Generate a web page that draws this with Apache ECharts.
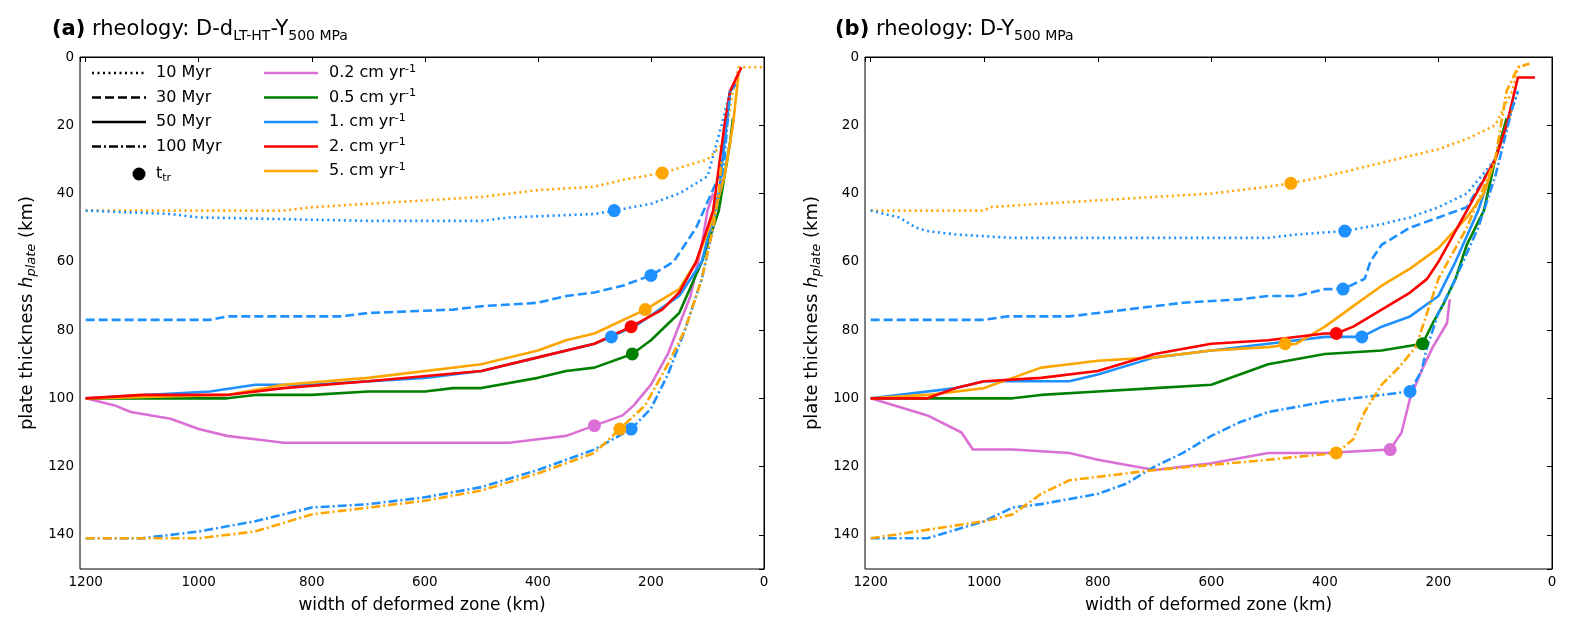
<!DOCTYPE html>
<html><head><meta charset="utf-8">
<script src="https://cdn.jsdelivr.net/npm/echarts@6/dist/echarts.min.js"></script>
<style>html,body{margin:0;padding:0;background:#fff}#c{width:1570px;height:629px}</style>
</head><body><div id="c"></div>
<script>
// ---- data: [width km, plate thickness km] ----
var xTicks = [1200, 1000, 800, 600, 400, 200, 0];
var yTicks = [0, 20, 40, 60, 80, 100, 120, 140];

// panel (a)
var aOrange10 = [[1200,45],[850,45],[800,44],[700,43],[600,42],[500,41],[400,39],[300,38],[250,36],[180,34],[100,30],[70,25],[55,10],[45,3],[0,3]];
var aBlue10 = [[1200,45],[1050,46],[1000,47],[700,48],[500,48],[450,47],[300,46],[265,45],[200,43],[150,40],[100,35],[75,20],[60,10],[50,8]];
var aBlue30 = [[1200,77],[980,77],[950,76],[750,76],[700,75],[550,74],[500,73],[400,72],[350,70],[300,69],[250,67],[200,64],[160,60],[120,50],[80,35],[60,10],[50,8]];
var aRed50 = [[1200,100],[1100,99],[950,99],[850,97],[700,95],[500,92],[400,88],[300,84],[235,79],[180,74],[150,69],[120,60],[90,45],[70,20],[60,10],[40,3]];
var aOrange50 = [[1200,100],[950,99],[850,96],[700,94],[500,90],[400,86],[350,83],[300,81],[210,74],[150,68],[120,60],[90,47],[70,35],[55,20],[45,5]];
var aBlue50 = [[1200,100],[980,98],[900,96],[800,96],[600,94],[500,92],[400,88],[300,84],[270,82],[220,78],[150,70],[110,60],[80,40],[60,10],[50,8]];
var aGreen50 = [[1200,100],[950,100],[900,99],[800,99],[700,98],[600,98],[550,97],[500,97],[400,94],[350,92],[300,91],[233,87],[200,83],[150,75],[110,60],[80,45],[60,25],[55,18]];
var aViolet50 = [[1200,100],[1150,102],[1120,104],[1050,106],[1000,109],[950,111],[900,112],[850,113],[450,113],[400,112],[350,111],[300,108],[250,105],[230,102],[200,96],[170,87],[130,70],[110,55],[100,45],[90,40]];
var aBlue100 = [[1200,141],[1100,141],[1000,139],[900,136],[800,132],[700,131],[600,129],[500,126],[400,121],[300,115],[235,109],[200,103],[170,93],[140,80],[110,65],[90,50],[70,30],[60,10]];
var aOrange100 = [[1200,141],[1000,141],[900,139],[800,134],[700,132],[600,130],[500,127],[400,122],[300,116],[255,109],[210,102],[170,90],[140,80],[110,65],[90,50],[80,40],[75,30]];
var aDots = [[180,34,'#FFA500'],[265,45,'#1E90FF'],[200,64,'#1E90FF'],[235,79,'#FF0000'],[210,74,'#FFA500'],[270,82,'#1E90FF'],[233,87,'#008000'],[300,108,'#DA70D6'],[235,109,'#1E90FF'],[255,109,'#FFA500']];

// panel (b)
var bOrange10 = [[1200,45],[1000,45],[990,44],[900,43],[700,41],[600,40],[500,38],[460,37],[400,35],[300,31],[250,29],[200,27],[150,24],[100,20],[70,10],[60,3],[40,2]];
var bBlue10 = [[1200,45],[1150,47],[1120,50],[1100,51],[1050,52],[950,53],[500,53],[450,52],[365,51],[300,49],[250,47],[200,44],[150,40],[100,30],[70,15],[60,10]];
var bBlue30 = [[1200,77],[1000,77],[960,76],[850,76],[800,75],[650,72],[550,71],[500,70],[450,70],[400,68],[368,68],[330,65],[320,60],[300,55],[250,50],[200,47],[150,44],[100,30],[80,20]];
var bOrange50 = [[1200,100],[1100,99],[1000,97],[950,94],[900,91],[850,90],[800,89],[700,88],[600,86],[500,85],[450,84],[400,79],[350,73],[300,67],[250,62],[200,56],[150,47],[120,40],[90,25],[70,15]];
var bRed50 = [[1200,100],[1100,100],[1050,97],[1000,95],[900,94],[800,92],[700,87],[600,84],[500,83],[400,81],[380,81],[350,79],[300,74],[250,69],[220,65],[200,60],[150,45],[100,30],[80,20],[60,6],[30,6]];
var bBlue50 = [[1200,100],[1050,97],[1000,95],[850,95],[800,93],[700,88],[600,86],[500,84],[400,82],[335,82],[300,79],[250,76],[200,70],[170,60],[130,45],[100,30],[80,20]];
var bGreen50 = [[1200,100],[950,100],[900,99],[800,98],[700,97],[600,96],[550,93],[500,90],[400,87],[300,86],[228,84],[210,78],[190,72],[170,65],[150,55],[120,45],[100,30],[80,18]];
var bViolet50 = [[1200,100],[1100,105],[1040,110],[1020,115],[950,115],[850,116],[800,118],[700,121],[600,119],[500,116],[400,116],[285,115],[265,110],[250,100],[230,92],[210,85],[185,78],[180,71]];
var bBlue100 = [[1200,141],[1100,141],[1000,136],[950,132],[900,131],[800,128],[750,125],[700,120],[650,116],[600,111],[550,107],[500,104],[400,101],[300,99],[250,98],[230,92],[220,85],[200,75],[170,65],[130,50],[100,35],[70,15],[60,10]];
var bOrange100 = [[1200,141],[1000,136],[950,134],[900,128],[850,124],[700,121],[500,118],[380,116],[350,112],[330,104],[300,96],[270,91],[240,85],[200,65],[150,50],[100,30],[80,10],[60,3],[40,2]];
var bDots = [[460,37,'#FFA500'],[365,51,'#1E90FF'],[368,68,'#1E90FF'],[380,81,'#FF0000'],[335,82,'#1E90FF'],[228,84,'#008000'],[470,84,'#FFA500'],[250,98,'#1E90FF'],[380,116,'#FFA500'],[285,115,'#DA70D6']];

var C = {orange:'#FFA500', blue:'#1E90FF', red:'#FF0000', green:'#008000', violet:'#DA70D6'};
var DOT = [2,3.5], DASH = [9,4], DASHDOT = [9,3,2,3];

function line(idx, data, color, type) {
    return {type:'line', xAxisIndex:idx, yAxisIndex:idx, data:data, showSymbol:false, symbol:'none',
        animation:false, z:2, lineStyle:{color:color, width:2.6, type:type}};
}
function dots(idx, d) {
    return {type:'scatter', xAxisIndex:idx, yAxisIndex:idx, symbolSize:13, z:5, animation:false,
        data:d.map(function (p) { return {value:[p[0],p[1]], itemStyle:{color:p[2], opacity:1}}; })};
}
var font = {fontFamily:'DejaVu Sans', color:'#000'};
function xAx(idx) {
    return {type:'value', gridIndex:idx, inverse:true, min:0, max:1210, interval:200,
        name:'width of deformed zone (km)', nameLocation:'middle', nameGap:28,
        nameTextStyle:Object.assign({fontSize:17}, font),
        axisLine:{lineStyle:{color:'#000'}}, axisTick:{lineStyle:{color:'#000'}, length:5},
        axisLabel:Object.assign({fontSize:13.5, margin:6, formatter:function (v) { return v > 1200 ? '' : v; }}, font),
        splitLine:{show:false}};
}
function yAx(idx) {
    return {type:'value', gridIndex:idx, inverse:true, min:0, max:150, interval:20,
        name:'{a|plate thickness }{i|h}{s|plate}{a| (km)}', nameLocation:'middle', nameGap:42,
        nameTextStyle:{rich:{a:Object.assign({fontSize:18},font), i:Object.assign({fontSize:18,fontStyle:'italic'},font), s:Object.assign({fontSize:13,fontStyle:'italic',verticalAlign:'bottom',padding:[8,0,0,0]},font)}},
        axisLine:{lineStyle:{color:'#000'}}, axisTick:{lineStyle:{color:'#000'}, length:5},
        axisLabel:Object.assign({fontSize:13.5, margin:6, formatter:function (v) { return v > 140 ? '' : v; }}, font),
        splitLine:{show:false}};
}

var series = [
    line(0,aOrange10,C.orange,DOT), line(0,aBlue10,C.blue,DOT), line(0,aBlue30,C.blue,DASH),
    line(0,aViolet50,C.violet,'solid'), line(0,aGreen50,C.green,'solid'), line(0,aBlue50,C.blue,'solid'),
    line(0,aOrange50,C.orange,'solid'), line(0,aRed50,C.red,'solid'),
    line(0,aBlue100,C.blue,DASHDOT), line(0,aOrange100,C.orange,DASHDOT), dots(0,aDots),
    line(1,bOrange10,C.orange,DOT), line(1,bBlue10,C.blue,DOT), line(1,bBlue30,C.blue,DASH),
    line(1,bViolet50,C.violet,'solid'), line(1,bGreen50,C.green,'solid'), line(1,bBlue50,C.blue,'solid'),
    line(1,bOrange50,C.orange,'solid'), line(1,bRed50,C.red,'solid'),
    line(1,bBlue100,C.blue,DASHDOT), line(1,bOrange100,C.orange,DASHDOT), dots(1,bDots)
];

// legend drawn as graphics
var legL = [['10 Myr',DOT],['30 Myr',DASH],['50 Myr','solid'],['100 Myr',DASHDOT]];
var legR = [['0.2',C.violet],['0.5',C.green],['1.',C.blue],['2.',C.red],['5.',C.orange]];
var g = [];
var t = {fontFamily:'DejaVu Sans', fontSize:16, fill:'#000'};
legL.forEach(function (e, i) {
    var y = 73 + i * 24.5;
    g.push({type:'line', shape:{x1:92,y1:y,x2:146,y2:y}, style:{stroke:'#000',lineWidth:2.6,lineDash:e[1]==='solid'?null:e[1]}});
    g.push({type:'text', x:156, y:y, style:Object.assign({text:e[0], verticalAlign:'middle'}, t)});
});
g.push({type:'circle', shape:{cx:139,cy:174,r:6.5}, style:{fill:'#000'}});
g.push({type:'text', x:156, y:174, style:{text:'{a|t}{s|tr}', verticalAlign:'middle', rich:{a:t, s:{fontFamily:'DejaVu Sans',fontSize:11,fill:'#000',padding:[8,0,0,0]}}}});
legR.forEach(function (e, i) {
    var y = 73 + i * 24.5;
    g.push({type:'line', shape:{x1:264,y1:y,x2:318,y2:y}, style:{stroke:e[1],lineWidth:2.6}});
    g.push({type:'text', x:329, y:y, style:{text:'{a|' + e[0] + ' cm yr}{s|-1}', verticalAlign:'middle', rich:{a:t, s:{fontFamily:'DejaVu Sans',fontSize:11,fill:'#000',padding:[0,0,8,0]}}}});
});
function title(x, lab, body, sub) {
    g.push({type:'text', x:x, y:30, style:{text:'{b|' + lab + '}{a| ' + body + '}{s|' + sub + '}' + (arguments[4] || ''), verticalAlign:'middle',
        rich:{b:{fontFamily:'DejaVu Sans',fontSize:21,fontWeight:'bold',fill:'#000'}, a:{fontFamily:'DejaVu Sans',fontSize:21,fill:'#000'},
              s:{fontFamily:'DejaVu Sans',fontSize:14,fill:'#000',padding:[12,0,0,0]}}}});
}
title(52, '(a)', 'rheology: D-d', 'LT-HT', '{a|-Y}{s|500 MPa}');
title(835, '(b)', 'rheology: D-Y', '500 MPa');

var chart = echarts.init(document.getElementById('c'));
chart.setOption({
    backgroundColor:'#fff',
    grid:[{left:80, right:806, top:57, bottom:60, show:true, borderColor:'#000', borderWidth:1},
          {left:865, right:18, top:57, bottom:60, show:true, borderColor:'#000', borderWidth:1}],
    xAxis:[xAx(0), xAx(1)],
    yAxis:[yAx(0), yAx(1)],
    series:series,
    graphic:g
});
</script></body></html>
